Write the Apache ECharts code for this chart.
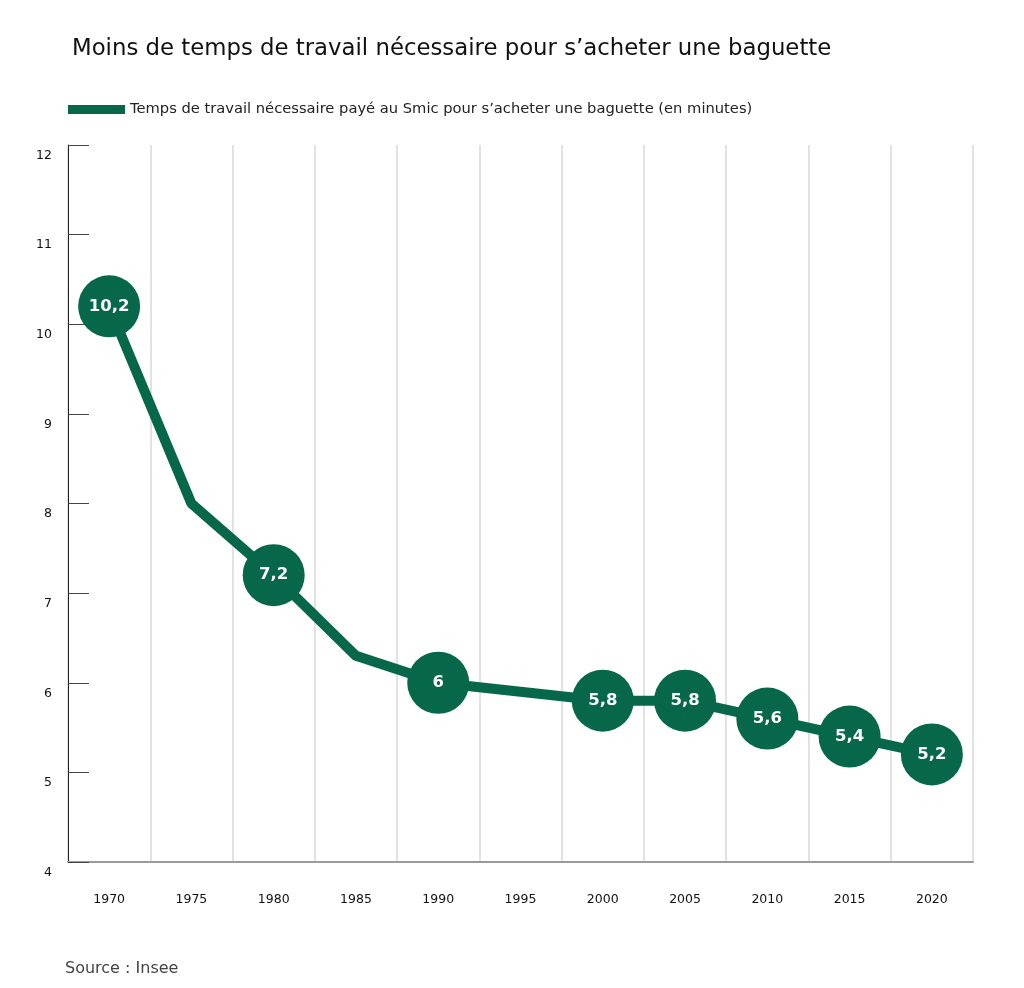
<!DOCTYPE html>
<html><head><meta charset="utf-8">
<script src="https://cdn.jsdelivr.net/npm/echarts@6/dist/echarts.min.js"></script>
<style>html,body{margin:0;padding:0;background:#fff}#c{width:1024px;height:988px}</style>
</head><body><div id="c"></div>
<script>
const years = ['1970','1975','1980','1985','1990','1995','2000','2005','2010','2015','2020'];
const minutes = [10.2, 8.0, 7.2, 6.3, 6.0, null, 5.8, 5.8, 5.6, 5.4, 5.2];
const labeled = [true, false, true, false, true, false, true, true, true, true, true];
const seriesName = 'Temps de travail nécessaire payé au Smic pour s’acheter une baguette (en minutes)';
const titleText = 'Moins de temps de travail nécessaire pour s’acheter une baguette';
const sourceText = 'Source : Insee';
const green = '#07674b';
const font = '"DejaVu Sans", "Noto Sans", sans-serif';

const data = minutes.map((v, i) => ({
  value: v,
  symbolSize: labeled[i] ? 62 : 0,
  label: { show: labeled[i] }
}));

const chart = echarts.init(document.getElementById('c'));
chart.setOption({
  animation: false,
  textStyle: { fontFamily: font },
  title: [
    { text: titleText, left: 67, top: 33, textStyle: { fontFamily: font, fontSize: 22.8, fontWeight: 'normal', color: '#111' } },
    { text: sourceText, left: 60, top: 956, textStyle: { fontFamily: font, fontSize: 16, fontWeight: 'normal', color: '#444' } }
  ],
  legend: {
    left: 68, top: 102, padding: 0, icon: 'rect', itemWidth: 57, itemHeight: 9,
    textStyle: { fontFamily: font, fontSize: 14.7, color: '#222', padding: [0, 0, 0, 0] },
    data: [seriesName]
  },
  grid: { left: 68, right: 51, top: 145, bottom: 126, containLabel: false },
  xAxis: {
    type: 'category', data: years, boundaryGap: true,
    axisLine: { lineStyle: { color: '#9a9a9a', width: 2 } },
    axisTick: { show: false },
    axisLabel: { margin: 31, fontFamily: font, fontSize: 12.5, color: '#111' },
    splitLine: { show: true, lineStyle: { color: '#e2e2e2', width: 2 } }
  },
  yAxis: {
    type: 'value', min: 4, max: 12, interval: 1,
    axisLine: { show: true, lineStyle: { color: '#222', width: 1 } },
    axisTick: { show: true, inside: true, length: 21, lineStyle: { color: '#444', width: 1 } },
    axisLabel: { margin: 16, fontFamily: font, fontSize: 12.5, color: '#111', verticalAlign: 'top', padding: [4, 0, 0, 0] },
    splitLine: { show: false }
  },
  series: [{
    name: seriesName, type: 'line', data: data, connectNulls: true,
    symbol: 'circle', color: green,
    lineStyle: { color: green, width: 10 },
    itemStyle: { color: green },
    label: {
      position: 'inside', color: '#fff', fontFamily: font, fontSize: 16.5, fontWeight: 'bold',
      formatter: p => String(p.value).replace('.', ',')
    },
    z: 3
  }]
});
</script></body></html>
